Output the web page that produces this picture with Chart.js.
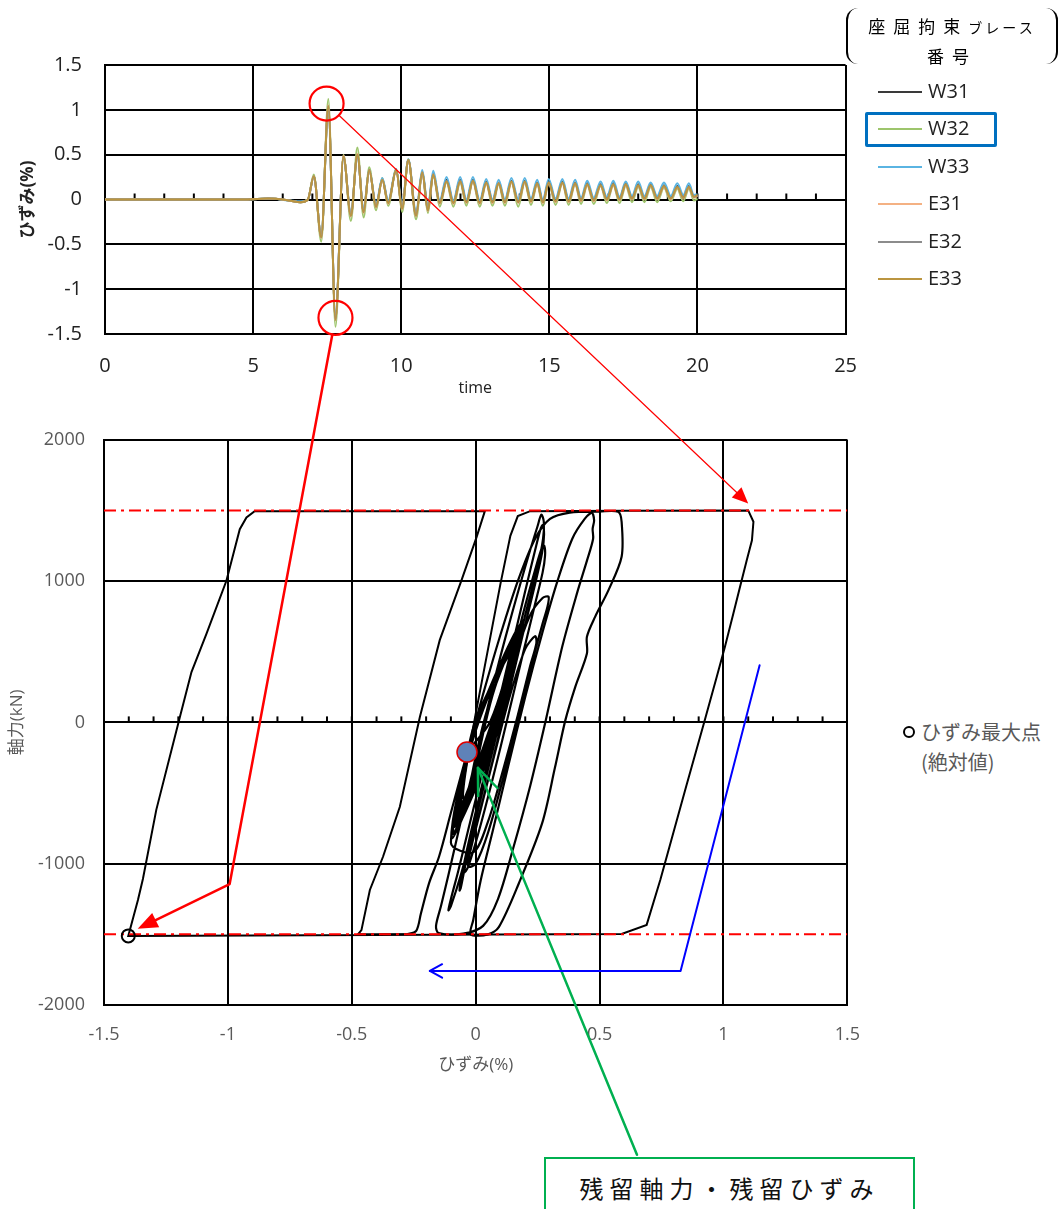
<!DOCTYPE html>
<html>
<head>
<meta charset="utf-8">
<title>座屈拘束ブレース ひずみ・軸力</title>
<script src="https://cdn.jsdelivr.net/npm/chart.js@4.4.1/dist/chart.umd.min.js"></script>
<style>
  body { margin: 0; background: #fff; }
  #page { position: relative; width: 1064px; height: 1209px; overflow: hidden; background: #fff;
          font-family: "Open Sans", "Noto Sans CJK JP", sans-serif; }
  #page canvas { position: absolute; }
  #topChart { left: 0; top: 30px; }
  #botChart { left: 0; top: 410px; }
  #overlay { left: 0; top: 0; pointer-events: none; }
  .brace { position: absolute; left: 846px; top: 8px; width: 208px; height: 56px;
           border-left: 2px solid #000; border-right: 2px solid #000; border-radius: 12px; }
  .legTitle { position: absolute; left: 846px; width: 212px; text-align: center;
              font-family: "Noto Sans CJK JP", sans-serif; font-size: 17px; line-height: 20px; color: #000; letter-spacing: 8px; }
  .legTitle small { font-size: 14px; letter-spacing: 3px; }
  .legRow { position: absolute; left: 878px; height: 24px; font-size: 20px; line-height: 24px; color: #222; }
  .legRow i { position: absolute; left: 0; top: 12px; width: 44px; height: 0; border-top: 2px solid; }
  .legRow span { position: absolute; left: 50px; top: 0; }
  #pick { position: absolute; left: 865px; top: 112px; width: 126px; height: 29px; border: 3px solid #0070c0; border-radius: 2px; }
  #maxLeg { position: absolute; left: 902px; top: 717px; font-size: 20px; line-height: 30px; color: #595959; }
  #maxLeg b { position: absolute; left: 1px; top: 9px; width: 8px; height: 8px; border: 2.5px solid #000; border-radius: 50%; }
  #maxLeg div { padding-left: 19px; font-family: "Noto Sans CJK JP", sans-serif; }
  #resBox { position: absolute; left: 544px; top: 1157px; width: 371px; height: 70px; border: 2px solid #00b050;
            background: #fff; text-align: center; font-family: "Noto Sans CJK JP", sans-serif; font-size: 24px;
            letter-spacing: 6px; line-height: 30px; padding-top: 14px; box-sizing: border-box; color: #111; }
</style>
</head>
<body>
<div id="page">
  <canvas id="topChart" width="877" height="380"></canvas>
  <canvas id="botChart" width="879" height="690"></canvas>
  <div class="brace"></div>
  <div class="legTitle" style="top:16px">座屈拘束<small>ブレース</small></div>
  <div class="legTitle" style="top:46px">番号</div>
  <div id="legend"></div>
  <div id="pick"></div>
  <div id="maxLeg"><b></b><div>ひずみ最大点</div><div>(絶対値)</div></div>
  <div id="resBox">残留軸力・残留ひずみ</div>
  <canvas id="overlay" width="1064" height="1209"></canvas>
</div>
<script>
// time history (top): time [s] and strain [%] per brace
const timeSec = [0, 4.8, 5.5, 6.2, 6.6, 6.85, 7.05, 7.3, 7.54, 7.78, 8.05, 8.3, 8.52, 8.73, 8.92, 9.15, 9.36, 9.56, 9.83, 10.03,
  10.24, 10.5, 10.71, 10.9, 11.08, 11.3, 11.53, 11.76, 11.99, 12.2, 12.42, 12.65, 12.87, 13.08, 13.29, 13.5, 13.72, 13.95, 14.17, 14.38,
  14.59, 14.78, 14.98, 15.21, 15.44, 15.65, 15.87, 16.07, 16.28, 16.5, 16.73, 16.94, 17.16, 17.37, 17.58, 17.79, 18.0, 18.21, 18.42, 18.64,
  18.87, 19.1, 19.32, 19.52, 19.71, 19.88, 20];

const w31 = [0, 0, 0.01, -0.01, -0.03, 0, 0.26, -0.42, 1.03, -1.33, 0.48, -0.17, 0.5, -0.13, 0.33, -0.07, 0.23, -0.03, 0.33, -0.09,
  0.44, -0.17, 0.31, -0.1, 0.29, -0.03, 0.22, -0.03, 0.22, -0.02, 0.22, -0.03, 0.2, -0.02, 0.19, -0.02, 0.21, -0.02, 0.21, -0.01,
  0.19, -0.02, 0.2, -0.01, 0.2, -0.01, 0.19, 0, 0.18, 0, 0.17, 0.01, 0.18, 0.01, 0.18, 0.02, 0.17, 0.02, 0.17, 0.02,
  0.16, 0.02, 0.15, 0.03, 0.15, 0.03, 0.04];
const w32 = [0, 0, 0.01, -0.01, -0.03, 0, 0.28, -0.47, 1.12, -1.42, 0.5, -0.24, 0.58, -0.2, 0.36, -0.12, 0.24, -0.07, 0.34, -0.14,
  0.45, -0.22, 0.3, -0.15, 0.27, -0.08, 0.19, -0.08, 0.19, -0.07, 0.2, -0.08, 0.18, -0.07, 0.17, -0.07, 0.19, -0.08, 0.19, -0.06,
  0.17, -0.07, 0.18, -0.06, 0.18, -0.06, 0.17, -0.05, 0.16, -0.05, 0.15, -0.04, 0.16, -0.04, 0.15, -0.03, 0.14, -0.03, 0.14, -0.03,
  0.13, -0.02, 0.12, -0.02, 0.12, -0.01, 0.01];
const w33 = [0, 0, 0.01, -0.01, -0.02, 0, 0.25, -0.4, 1.0, -1.3, 0.47, -0.15, 0.48, -0.1, 0.33, -0.05, 0.24, -0.01, 0.34, -0.06,
  0.45, -0.14, 0.33, -0.08, 0.32, -0.01, 0.25, -0.01, 0.25, 0, 0.25, -0.01, 0.23, 0, 0.22, 0, 0.24, 0, 0.24, 0.01,
  0.22, 0, 0.23, 0.01, 0.23, 0.01, 0.22, 0.02, 0.21, 0.02, 0.2, 0.03, 0.21, 0.03, 0.2, 0.04, 0.2, 0.04, 0.19, 0.04,
  0.19, 0.04, 0.18, 0.05, 0.18, 0.05, 0.06];
const e31 = [0, 0, 0.01, -0.01, -0.03, 0, 0.26, -0.43, 1.05, -1.35, 0.49, -0.19, 0.51, -0.15, 0.33, -0.09, 0.22, -0.05, 0.33, -0.11,
  0.44, -0.19, 0.3, -0.13, 0.28, -0.05, 0.2, -0.05, 0.2, -0.04, 0.2, -0.05, 0.18, -0.04, 0.18, -0.04, 0.19, -0.04, 0.19, -0.03,
  0.17, -0.04, 0.18, -0.03, 0.18, -0.03, 0.17, -0.02, 0.16, -0.02, 0.15, -0.01, 0.16, -0.01, 0.16, 0, 0.15, 0, 0.15, 0,
  0.14, 0, 0.13, 0.01, 0.13, 0.02, 0.04];
const e32 = [0, 0, 0.01, -0.01, -0.03, 0, 0.26, -0.42, 1.04, -1.34, 0.48, -0.18, 0.5, -0.14, 0.33, -0.08, 0.22, -0.04, 0.33, -0.1,
  0.44, -0.18, 0.3, -0.12, 0.28, -0.04, 0.21, -0.04, 0.21, -0.03, 0.21, -0.04, 0.19, -0.03, 0.18, -0.03, 0.2, -0.03, 0.2, -0.02,
  0.18, -0.03, 0.19, -0.02, 0.19, -0.02, 0.18, -0.01, 0.17, -0.01, 0.16, 0, 0.17, 0, 0.17, 0.01, 0.16, 0.01, 0.16, 0.01,
  0.15, 0.01, 0.14, 0.02, 0.14, 0.03, 0.05];
const e33 = [0, 0, 0.01, -0.01, -0.03, 0, 0.26, -0.42, 1.04, -1.34, 0.48, -0.18, 0.5, -0.14, 0.33, -0.08, 0.22, -0.04, 0.33, -0.1,
  0.44, -0.18, 0.3, -0.12, 0.28, -0.04, 0.2, -0.04, 0.2, -0.03, 0.21, -0.04, 0.19, -0.03, 0.18, -0.03, 0.2, -0.03, 0.2, -0.02,
  0.18, -0.03, 0.19, -0.02, 0.19, -0.02, 0.18, -0.01, 0.17, -0.01, 0.16, 0, 0.17, 0, 0.17, 0.01, 0.16, 0.01, 0.16, 0.01,
  0.15, 0.01, 0.14, 0.02, 0.14, 0.03, 0.05];

const braceNames = ['W31', 'W32', 'W33', 'E31', 'E32', 'E33'];
const braceColors = ['#3a3a3a', '#9dc56c', '#5ab4e2', '#f4b183', '#8c8c8c', '#bb9540'];
const braceSeries = [w31, w32, w33, e31, e32, e33];

// hysteresis (bottom): [strain %, axial force kN]
const outerPath = [[-0.05, -420], [0.0, 60], [0.05, 520], [0.1, 980], [0.14, 1320], [0.17, 1460], [0.22, 1495], [0.6, 1498], [1.1, 1500],
  [1.121, 1420], [1.115, 1289], [1.094, 1148], [1.067, 960], [1.04, 771], [1.006, 535], [0.973, 323], [0.922, 0], [0.85, -450],
  [0.79, -830], [0.745, -1115], [0.69, -1433], [0.589, -1497], [-1.402, -1511],
  [-1.385, -1400], [-1.363, -1257], [-1.343, -1108], [-1.289, -619], [-1.195, 30], [-1.147, 356], [-1.087, 624], [-1.006, 1002],
  [-0.952, 1367], [-0.925, 1450], [-0.892, 1495], [0.037, 1495],
  [0.004, 1313], [-0.057, 1007], [-0.145, 582], [-0.225, 40], [-0.306, -597], [-0.374, -951], [-0.427, -1186], [-0.461, -1470],
  [-0.475, -1500], [-0.28, -1500]];

const innerPath = [[-0.28, -1500], [-0.24, -1475], [-0.221, -1352], [-0.188, -1137], [-0.148, -951], [-0.1, -640], [-0.04, -250],
  [0.03, 200], [0.1, 620], [0.17, 1000], [0.24, 1300], [0.3, 1440], [0.38, 1485], [0.5, 1492], [0.575, 1490], [0.589, 1420],
  [0.589, 1172], [0.536, 936], [0.482, 747], [0.449, 606], [0.449, 488], [0.402, 252], [0.362, 16], [0.32, -320], [0.268, -715],
  [0.174, -1140], [0.094, -1447], [0.05, -1500], [-0.02, -1500],
  [-0.01, -1400], [0.02, -1120], [0.07, -760], [0.13, -320], [0.2, 180], [0.27, 640], [0.33, 1000], [0.39, 1300], [0.44, 1440],
  [0.469, 1482], [0.478, 1430], [0.472, 1370], [0.474, 1300], [0.45, 1150], [0.41, 920], [0.35, 540], [0.281, 0], [0.22, -450],
  [0.15, -900], [0.09, -1250], [0.03, -1440], [-0.05, -1495], [-0.15, -1490],
  [-0.16, -1440], [-0.14, -1300], [-0.11, -1080], [-0.06, -700], [0.0, -260], [0.06, 190], [0.12, 600], [0.18, 980], [0.22, 1220],
  [0.25, 1390], [0.265, 1470], [0.275, 1420], [0.272, 1300], [0.25, 1100], [0.2, 760], [0.14, 330], [0.07, -190], [0.0, -680],
  [-0.06, -1080], [-0.1, -1300], [-0.11, -1330],
  [-0.1, -1250], [-0.07, -1050], [-0.03, -760], [0.03, -330], [0.09, 120], [0.15, 560], [0.2, 930], [0.24, 1220], [0.262, 1370],
  [0.27, 1395], [0.276, 1330], [0.268, 1200], [0.24, 980], [0.19, 620], [0.13, 180], [0.07, -260], [0.01, -680], [-0.04, -1000],
  [-0.06, -1170], [-0.065, -1190],
  [-0.06, -1120], [-0.035, -900], [0.01, -560], [0.07, -120], [0.13, 330], [0.19, 760], [0.24, 1080], [0.268, 1240], [0.277, 1250],
  [0.28, 1180], [0.27, 1060], [0.24, 840], [0.19, 480], [0.13, 40], [0.07, -390], [0.01, -790], [-0.03, -1020], [-0.045, -1060],
  [-0.04, -980], [-0.01, -760], [0.04, -400], [0.1, 40], [0.16, 460], [0.22, 760], [0.27, 880], [0.294, 890], [0.29, 820],
  [0.27, 700], [0.23, 440], [0.17, 20], [0.11, -400], [0.05, -780], [0.0, -1000], [-0.03, -1020],
  [-0.02, -900], [0.02, -620], [0.08, -200], [0.14, 200], [0.2, 520], [0.24, 610], [0.245, 560], [0.22, 400], [0.17, 50],
  [0.11, -340], [0.05, -700], [-0.01, -920], [-0.1, -850],
  [0.0, -60], [0.19, 720], [0.09, -60], [-0.09, -790], [-0.002, -40], [0.18, 690], [0.086, -40],
  [-0.095, -820], [-0.004, -55], [0.185, 700], [0.088, -55], [-0.085, -740], [0.0, -30], [0.175, 660], [0.082, -30],
  [-0.08, -720], [0.002, -20], [0.17, 640], [0.08, -20], [-0.09, -780], [-0.006, -45], [0.18, 690], [0.084, -45],
  [-0.075, -690], [0.004, -15], [0.165, 610], [0.078, -15], [-0.08, -710], [0.0, -25], [0.17, 630], [0.079, -25],
  [-0.07, -660], [0.004, -10], [0.16, 590], [0.075, -10], [-0.075, -680], [0.0, -20], [0.165, 600], [0.076, -20],
  [-0.065, -630], [0.004, -5], [0.155, 560], [0.072, -5], [-0.07, -650], [0.0, -15], [0.16, 570], [0.073, -15],
  [-0.06, -600], [0.004, 0], [0.15, 540], [0.07, 0], [-0.065, -620], [0.0, -10], [0.155, 550], [0.07, -10],
  [-0.01, -400], [0.055, 130], [0.175, 660], [0.105, 130], [0.0, -330], [0.06, 160], [0.165, 640], [0.11, 160],
  [-0.02, -450], [0.05, 110], [0.18, 680], [0.1, 110], [0.005, -300], [0.065, 180], [0.16, 620], [0.112, 180],
  [-0.015, -420], [0.052, 120], [0.17, 650], [0.102, 120], [0.01, -280], [0.068, 190], [0.155, 600], [0.113, 190],
  [-0.055, -570], [0.0, 5], [0.145, 510], [0.066, 5], [-0.06, -590], [-0.004, -5], [0.15, 520], [0.064, -5],
  [-0.05, -540], [0.002, 10], [0.14, 480], [0.06, 10], [-0.035, -210]];

const yieldForces = [1500, -1500];
const maxStrainPoint = [[-1.402, -1511]];
const residualPoint = [[-0.035, -210]];

// annotation anchors (data coordinates of each chart)
const peakCircles = [[7.48, 1.07], [7.78, -1.32]];
const tensionArrowTip = [1.1, 1550];
const compressionBend = [-0.993, -1144];
const compressionArrowTip = [-1.364, -1461];
const residualArrowFrom = [0.651, -3060];
const residualArrowTip = [0.009, -322];
const loadingPath = [[1.146, 405], [0.827, -1759], [-0.185, -1759]];

const FONT = '"Open Sans", "Noto Sans CJK JP", sans-serif';

// short tick marks on the zero line
const zeroTicks = {
  id: 'zeroTicks',
  beforeDatasetsDraw(chart, args, opts) {
    const { ctx, scales: { x, y } } = chart;
    const y0 = y.getPixelForValue(0);
    ctx.save();
    ctx.strokeStyle = '#000';
    ctx.lineWidth = 2;
    const n = Math.round((x.max - x.min) / opts.step);
    for (let i = 1; i < n; i++) {
      const px = x.getPixelForValue(x.min + i * opts.step);
      ctx.beginPath();
      ctx.moveTo(px, y0);
      ctx.lineTo(px, y0 - opts.len);
      ctx.stroke();
    }
    ctx.restore();
  }
};

function axisGrid() {
  return { color: '#000', lineWidth: 2, drawTicks: false };
}

// note: chart area insets come from the tick label paddings (top ~35, right ~32), canvases are placed for that
const topChart = new Chart(document.getElementById('topChart'), {
  type: 'line',
  data: {
    datasets: braceSeries.map((vals, i) => ({
      label: braceNames[i],
      data: timeSec.map((t, k) => ({ x: t, y: vals[k] })),
      borderColor: braceColors[i],
      borderWidth: 2,
      pointRadius: 0,
      cubicInterpolationMode: 'monotone',
      order: braceSeries.length - i
    }))
  },
  options: {
    responsive: false,
    animation: false,
    layout: { padding: 0 },
    plugins: { legend: { display: false }, tooltip: { enabled: false }, zeroTicks: { step: 1, len: 6 } },
    scales: {
      x: {
        type: 'linear', min: 0, max: 25,
        ticks: { stepSize: 5, color: '#222', padding: 20, font: { family: FONT, size: 20 } },
        grid: axisGrid(),
        border: { color: '#000', width: 2 },
        title: { display: true, text: 'time', color: '#222', font: { family: FONT, size: 16 }, padding: { top: 0, bottom: 12 } },
        afterFit: s => { s.height = 76; }
      },
      y: {
        min: -1.5, max: 1.5,
        ticks: { stepSize: 0.5, color: '#222', padding: 23, font: { family: FONT, size: 20 }, callback: v => String(v) },
        grid: axisGrid(),
        border: { color: '#000', width: 2 },
        title: { display: true, text: 'ひずみ(%)', color: '#222', font: { family: FONT, size: 17, weight: 'bold' }, padding: { top: 18, bottom: 0 } },
        afterFit: s => { s.width = 105; }
      }
    }
  },
  plugins: [zeroTicks]
});

const toXY = arr => arr.map(p => ({ x: p[0], y: p[1] }));

const botChart = new Chart(document.getElementById('botChart'), {
  type: 'scatter',
  data: {
    datasets: [
      { label: 'ひずみ最大点', data: toXY(maxStrainPoint), pointRadius: 6.5, pointBorderWidth: 2,
        pointBorderColor: '#000', pointBackgroundColor: 'rgba(0,0,0,0)', order: 1 },
      { label: '残留', data: toXY(residualPoint), pointRadius: 10, pointBorderWidth: 1.5,
        pointBorderColor: '#e00000', pointBackgroundColor: '#5f82b8', order: 0 },
      ...yieldForces.map(f => ({
        label: 'yield ' + f, data: [{ x: -1.5, y: f }, { x: 1.5, y: f }], showLine: true, pointRadius: 0,
        borderColor: '#ff0000', borderWidth: 2, borderDash: [12, 5, 3, 5], order: 2
      })),
      { label: 'inner', data: toXY(innerPath), showLine: true, pointRadius: 0, borderColor: '#000',
        borderWidth: 2.2, tension: 0.3, order: 3 },
      { label: 'outer', data: toXY(outerPath), showLine: true, pointRadius: 0, borderColor: '#000',
        borderWidth: 2, tension: 0, order: 4 }
    ]
  },
  options: {
    responsive: false,
    animation: false,
    layout: { padding: 0 },
    plugins: { legend: { display: false }, tooltip: { enabled: false }, zeroTicks: { step: 0.1, len: 6 } },
    scales: {
      x: {
        type: 'linear', min: -1.5, max: 1.5,
        ticks: { stepSize: 0.5, color: '#595959', padding: 19, font: { family: FONT, size: 18 }, callback: v => String(v) },
        grid: axisGrid(),
        border: { color: '#000', width: 2 },
        title: { display: true, text: 'ひずみ(%)', color: '#595959', font: { family: FONT, size: 17 }, padding: { top: 0, bottom: 25 } },
        afterFit: s => { s.height = 95; }
      },
      y: {
        min: -2000, max: 2000,
        ticks: { stepSize: 1000, color: '#595959', padding: 19, font: { family: FONT, size: 18 }, callback: v => String(v) },
        grid: axisGrid(),
        border: { color: '#000', width: 2 },
        title: { display: true, text: '軸力(kN)', color: '#595959', font: { family: FONT, size: 17 }, padding: { top: 7, bottom: 0 } },
        afterFit: s => { s.width = 104; }
      }
    }
  },
  plugins: [zeroTicks]
});

// legend for the time histories
const legendDiv = document.getElementById('legend');
braceNames.forEach((name, i) => {
  const row = document.createElement('div');
  row.className = 'legRow';
  row.style.top = (79 + i * 37.4) + 'px';
  row.innerHTML = '<i style="border-color:' + braceColors[i] + '"></i><span>' + name + '</span>';
  legendDiv.appendChild(row);
});

function unit(a, b) {
  const dx = b[0] - a[0], dy = b[1] - a[1], d = Math.hypot(dx, dy);
  return [dx / d, dy / d];
}

function filledHead(ctx, from, to, len, half) {
  const [ux, uy] = unit(from, to);
  ctx.beginPath();
  ctx.moveTo(to[0], to[1]);
  ctx.lineTo(to[0] - len * ux - half * uy, to[1] - len * uy + half * ux);
  ctx.lineTo(to[0] - len * ux + half * uy, to[1] - len * uy - half * ux);
  ctx.closePath();
  ctx.fill();
}

function openHead(ctx, from, to, len, ang) {
  const a = Math.atan2(to[1] - from[1], to[0] - from[0]);
  ctx.beginPath();
  [-1, 1].forEach(s => {
    ctx.moveTo(to[0], to[1]);
    ctx.lineTo(to[0] - len * Math.cos(a + s * ang), to[1] - len * Math.sin(a + s * ang));
  });
  ctx.stroke();
}

function drawAnnotations() {
  const ctx = document.getElementById('overlay').getContext('2d');
  const tEl = topChart.canvas, bEl = botChart.canvas;
  const tp = p => [tEl.offsetLeft + topChart.scales.x.getPixelForValue(p[0]), tEl.offsetTop + topChart.scales.y.getPixelForValue(p[1])];
  const bp = p => [bEl.offsetLeft + botChart.scales.x.getPixelForValue(p[0]), bEl.offsetTop + botChart.scales.y.getPixelForValue(p[1])];
  const R = 17;
  ctx.lineCap = 'round';
  ctx.lineJoin = 'round';

  // red circles on the strain peaks
  ctx.strokeStyle = '#ff0000';
  ctx.fillStyle = '#ff0000';
  ctx.lineWidth = 2.2;
  const [c1, c2] = peakCircles.map(tp);
  [c1, c2].forEach(c => { ctx.beginPath(); ctx.arc(c[0], c[1], R, 0, Math.PI * 2); ctx.stroke(); });

  // thin arrow: tension peak -> +1500 line
  const tip1 = bp(tensionArrowTip);
  let u = unit(c1, tip1);
  ctx.lineWidth = 1.2;
  ctx.beginPath();
  ctx.moveTo(c1[0] + u[0] * R, c1[1] + u[1] * R);
  ctx.lineTo(tip1[0] - u[0] * 14, tip1[1] - u[1] * 14);
  ctx.stroke();
  filledHead(ctx, c1, tip1, 16, 7);

  // thick arrow: compression peak -> max strain point
  const bend = bp(compressionBend), tip2 = bp(compressionArrowTip);
  u = unit(c2, bend);
  const u2 = unit(bend, tip2);
  ctx.lineWidth = 2.5;
  ctx.beginPath();
  ctx.moveTo(c2[0] + u[0] * R, c2[1] + u[1] * R);
  ctx.lineTo(bend[0], bend[1]);
  ctx.lineTo(tip2[0] - u2[0] * 16, tip2[1] - u2[1] * 16);
  ctx.stroke();
  filledHead(ctx, bend, tip2, 20, 8);

  // green arrow to the residual point
  const gFrom = bp(residualArrowFrom), gTip = bp(residualArrowTip);
  ctx.strokeStyle = '#00b050';
  ctx.lineWidth = 2.5;
  ctx.beginPath();
  ctx.moveTo(gFrom[0], gFrom[1]);
  ctx.lineTo(gTip[0], gTip[1]);
  ctx.stroke();
  openHead(ctx, gFrom, gTip, 28, 0.38);

  // blue loading-path arrow
  const lp = loadingPath.map(bp);
  ctx.strokeStyle = '#0000ff';
  ctx.lineWidth = 2;
  ctx.beginPath();
  lp.forEach((p, i) => (i ? ctx.lineTo(p[0], p[1]) : ctx.moveTo(p[0], p[1])));
  ctx.stroke();
  openHead(ctx, lp[1], lp[2], 14, 0.5);
}

drawAnnotations();
</script>
</body>
</html>
